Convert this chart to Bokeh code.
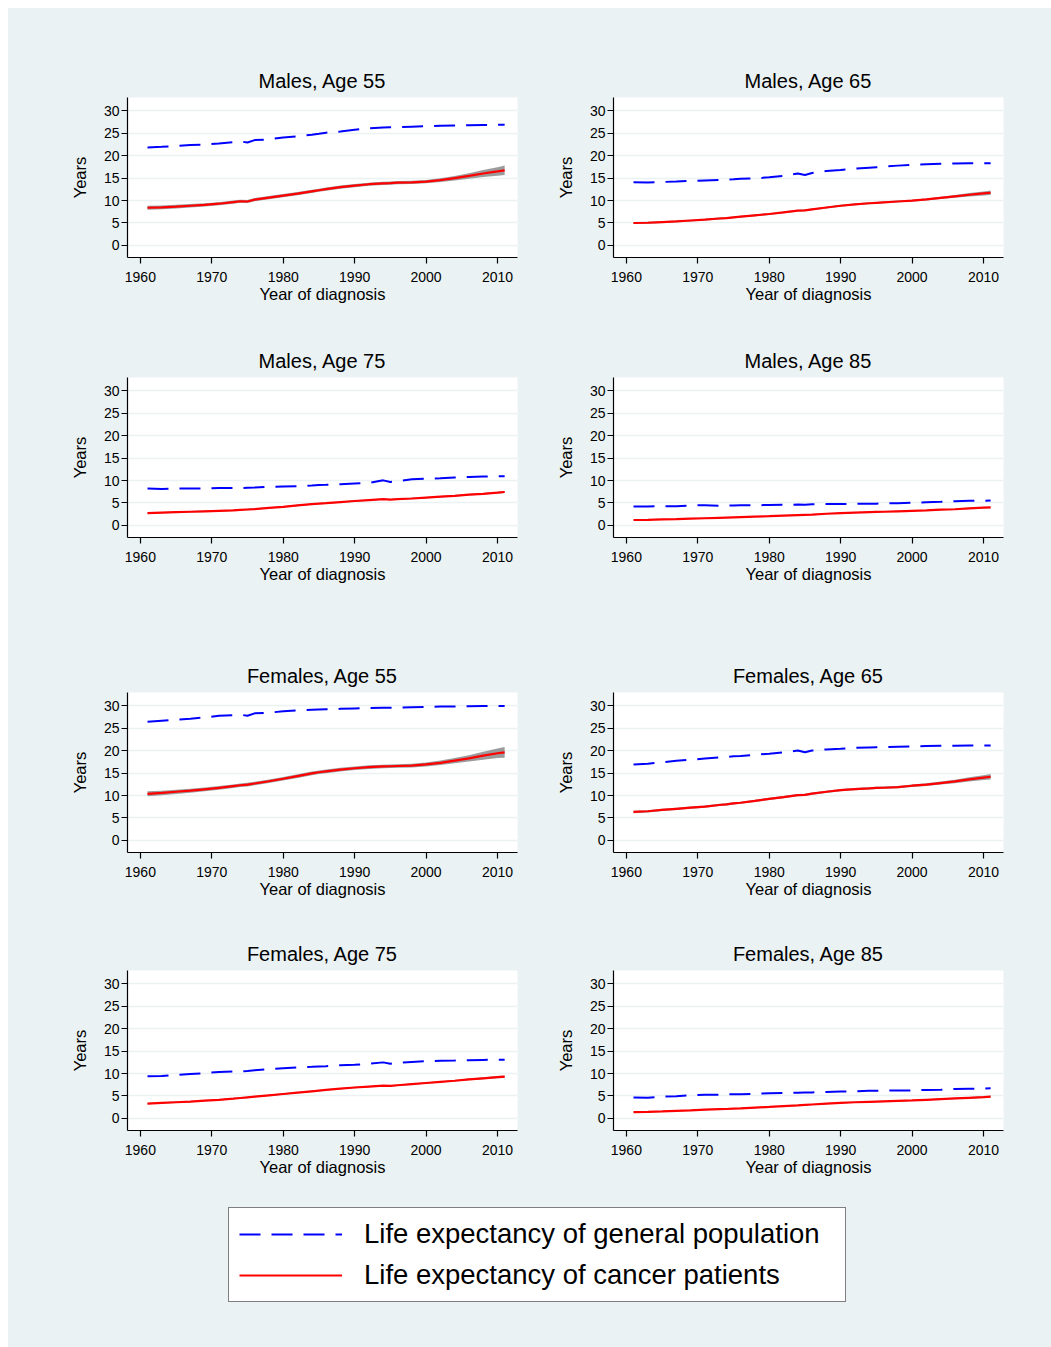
from bokeh.plotting import figure
from bokeh.layouts import column, row
from bokeh.models import Range1d, FixedTicker, Legend, LegendItem
from bokeh.embed import file_html
from bokeh.resources import INLINE

# ---------------- data ----------------
years = [1961, 1963, 1965, 1967, 1969, 1971, 1973, 1974, 1975, 1976,
         1978, 1980, 1982, 1984, 1985, 1986, 1988, 1990, 1992, 1994,
         1995, 1996, 1998, 2000, 2002, 2004, 2006, 2008, 2010, 2011]

panel_titles = ["Males, Age 55", "Males, Age 65", "Males, Age 75", "Males, Age 85",
                "Females, Age 55", "Females, Age 65", "Females, Age 75", "Females, Age 85"]

m55_gen = [21.85, 22.0, 22.2, 22.4, 22.5, 22.75, 23.05, 23.2, 22.95, 23.5,
           23.65, 24.1, 24.35, 24.7, 24.9, 25.15, 25.4, 25.8, 26.1, 26.3,
           26.35, 26.4, 26.5, 26.6, 26.7, 26.75, 26.8, 26.85, 26.9, 26.9]
m55_can = [8.4, 8.5, 8.65, 8.85, 9.05, 9.3, 9.65, 9.85, 9.8, 10.2,
           10.65, 11.1, 11.55, 12.05, 12.3, 12.55, 13.0, 13.35, 13.65, 13.85,
           13.9, 14.0, 14.05, 14.25, 14.55, 15.0, 15.5, 16.05, 16.5, 16.75]
m55_ci = [0.45, 0.42, 0.4, 0.38, 0.36, 0.35, 0.35, 0.35, 0.35, 0.35,
          0.35, 0.35, 0.35, 0.35, 0.35, 0.35, 0.35, 0.35, 0.35, 0.35,
          0.35, 0.35, 0.35, 0.37, 0.42, 0.5, 0.62, 0.78, 0.95, 1.05]

m65_gen = [14.1, 14.05, 14.15, 14.25, 14.4, 14.5, 14.6, 14.7, 14.75, 14.85,
           14.95, 15.2, 15.5, 16.05, 15.7, 16.15, 16.6, 16.85, 17.15, 17.35,
           17.45, 17.55, 17.8, 18.0, 18.1, 18.2, 18.3, 18.35, 18.35, 18.35]
m65_can = [5.0, 5.05, 5.2, 5.35, 5.55, 5.75, 6.0, 6.1, 6.25, 6.4,
           6.7, 7.0, 7.35, 7.75, 7.8, 8.05, 8.45, 8.85, 9.15, 9.4,
           9.5, 9.6, 9.8, 10.0, 10.25, 10.6, 10.95, 11.3, 11.6, 11.75]
m65_ci = [0.22, 0.2, 0.2, 0.2, 0.2, 0.2, 0.2, 0.2, 0.2, 0.2,
          0.2, 0.2, 0.2, 0.2, 0.2, 0.2, 0.2, 0.2, 0.2, 0.2,
          0.2, 0.2, 0.2, 0.2, 0.22, 0.25, 0.3, 0.37, 0.45, 0.5]

m75_gen = [8.25, 8.1, 8.25, 8.25, 8.25, 8.35, 8.35, 8.35, 8.4, 8.45,
           8.6, 8.7, 8.75, 8.9, 9.0, 9.05, 9.2, 9.35, 9.5, 10.05,
           9.7, 9.85, 10.3, 10.45, 10.5, 10.7, 10.8, 10.9, 10.95, 10.95]
m75_can = [2.75, 2.85, 2.95, 3.05, 3.15, 3.25, 3.35, 3.45, 3.55, 3.65,
           3.9, 4.15, 4.45, 4.75, 4.85, 4.95, 5.2, 5.45, 5.65, 5.85,
           5.75, 5.85, 6.0, 6.2, 6.4, 6.6, 6.85, 7.05, 7.3, 7.45]
m75_ci = [0.15, 0.15, 0.15, 0.15, 0.15, 0.15, 0.15, 0.15, 0.15, 0.15,
          0.15, 0.15, 0.15, 0.15, 0.15, 0.15, 0.15, 0.15, 0.15, 0.15,
          0.15, 0.15, 0.15, 0.15, 0.15, 0.16, 0.17, 0.18, 0.2, 0.22]

m85_gen = [4.2, 4.2, 4.3, 4.3, 4.45, 4.5, 4.4, 4.45, 4.45, 4.5,
           4.5, 4.55, 4.6, 4.65, 4.6, 4.7, 4.75, 4.75, 4.8, 4.85,
           4.85, 4.9, 4.95, 5.05, 5.15, 5.25, 5.4, 5.5, 5.5, 5.55]
m85_can = [1.2, 1.25, 1.35, 1.4, 1.5, 1.6, 1.7, 1.75, 1.8, 1.85,
           1.95, 2.05, 2.2, 2.3, 2.35, 2.4, 2.6, 2.75, 2.85, 2.95,
           3.0, 3.05, 3.15, 3.25, 3.35, 3.5, 3.6, 3.8, 3.95, 4.0]
m85_ci = [0.1, 0.1, 0.1, 0.1, 0.1, 0.1, 0.1, 0.1, 0.1, 0.1,
          0.1, 0.1, 0.1, 0.1, 0.1, 0.1, 0.1, 0.1, 0.1, 0.1,
          0.1, 0.1, 0.1, 0.1, 0.1, 0.11, 0.12, 0.13, 0.14, 0.15]

f55_gen = [26.5, 26.7, 26.9, 27.15, 27.45, 27.8, 27.95, 28.05, 27.8, 28.35,
           28.5, 28.8, 29.0, 29.15, 29.2, 29.25, 29.35, 29.45, 29.55, 29.6,
           29.6, 29.6, 29.7, 29.75, 29.85, 29.9, 29.95, 30.0, 30.0, 30.0]
f55_can = [10.4, 10.6, 10.85, 11.1, 11.4, 11.7, 12.1, 12.3, 12.45, 12.7,
           13.2, 13.75, 14.35, 14.95, 15.2, 15.4, 15.8, 16.1, 16.35, 16.5,
           16.55, 16.6, 16.7, 16.95, 17.3, 17.8, 18.3, 18.9, 19.45, 19.65]
f55_ci = [0.55, 0.5, 0.47, 0.45, 0.43, 0.42, 0.4, 0.4, 0.4, 0.4,
          0.4, 0.4, 0.4, 0.4, 0.4, 0.4, 0.4, 0.4, 0.4, 0.4,
          0.4, 0.4, 0.42, 0.45, 0.5, 0.6, 0.72, 0.88, 1.05, 1.2]

f65_gen = [16.95, 17.1, 17.45, 17.75, 18.0, 18.25, 18.5, 18.6, 18.75, 18.85,
           19.1, 19.35, 19.65, 20.05, 19.65, 20.05, 20.3, 20.45, 20.65, 20.75,
           20.8, 20.85, 20.9, 20.95, 21.05, 21.1, 21.1, 21.15, 21.2, 21.2]
f65_can = [6.35, 6.5, 6.8, 7.05, 7.3, 7.55, 7.9, 8.05, 8.25, 8.4,
           8.8, 9.25, 9.65, 10.1, 10.15, 10.45, 10.85, 11.2, 11.45, 11.6,
           11.7, 11.75, 11.9, 12.2, 12.45, 12.8, 13.15, 13.6, 14.0, 14.2]
f65_ci = [0.27, 0.25, 0.25, 0.25, 0.25, 0.25, 0.25, 0.25, 0.25, 0.25,
          0.25, 0.25, 0.25, 0.25, 0.25, 0.25, 0.25, 0.25, 0.25, 0.25,
          0.25, 0.25, 0.25, 0.27, 0.3, 0.34, 0.4, 0.47, 0.55, 0.6]

f75_gen = [9.4, 9.45, 9.7, 9.9, 10.1, 10.35, 10.45, 10.5, 10.6, 10.75,
           10.95, 11.2, 11.35, 11.5, 11.6, 11.65, 11.85, 11.95, 12.2, 12.5,
           12.2, 12.4, 12.6, 12.75, 12.85, 12.9, 13.0, 13.05, 13.1, 13.1]
f75_can = [3.3, 3.45, 3.6, 3.75, 3.95, 4.15, 4.4, 4.55, 4.7, 4.85,
           5.15, 5.45, 5.75, 6.05, 6.2, 6.35, 6.65, 6.9, 7.1, 7.3,
           7.25, 7.4, 7.65, 7.9, 8.15, 8.4, 8.7, 8.95, 9.2, 9.3]
f75_ci = [0.15, 0.15, 0.15, 0.15, 0.15, 0.15, 0.15, 0.15, 0.15, 0.15,
          0.15, 0.15, 0.15, 0.15, 0.15, 0.15, 0.15, 0.15, 0.15, 0.15,
          0.15, 0.15, 0.15, 0.15, 0.16, 0.17, 0.19, 0.21, 0.24, 0.26]

f85_gen = [4.65, 4.6, 4.85, 4.95, 5.15, 5.25, 5.3, 5.35, 5.4, 5.4,
           5.5, 5.6, 5.7, 5.75, 5.8, 5.8, 5.9, 6.0, 6.05, 6.15,
           6.15, 6.2, 6.25, 6.25, 6.35, 6.4, 6.55, 6.6, 6.65, 6.7]
f85_can = [1.4, 1.45, 1.55, 1.7, 1.8, 1.95, 2.05, 2.1, 2.2, 2.25,
           2.4, 2.55, 2.75, 2.9, 3.0, 3.1, 3.3, 3.45, 3.6, 3.7,
           3.75, 3.8, 3.9, 4.0, 4.15, 4.3, 4.45, 4.6, 4.75, 4.85]
f85_ci = [0.12, 0.12, 0.12, 0.12, 0.12, 0.12, 0.12, 0.12, 0.12, 0.12,
          0.12, 0.12, 0.12, 0.12, 0.12, 0.12, 0.12, 0.12, 0.12, 0.12,
          0.12, 0.12, 0.12, 0.12, 0.13, 0.14, 0.15, 0.17, 0.19, 0.2]

x_ticks = [1960, 1970, 1980, 1990, 2000, 2010]
y_ticks = [0, 5, 10, 15, 20, 25, 30]
legend_labels = ["Life expectancy of general population",
                 "Life expectancy of cancer patients"]

panels = [
    (m55_gen, m55_can, m55_ci), (m65_gen, m65_can, m65_ci),
    (m75_gen, m75_can, m75_ci), (m85_gen, m85_can, m85_ci),
    (f55_gen, f55_can, f55_ci), (f65_gen, f65_can, f65_ci),
    (f75_gen, f75_can, f75_ci), (f85_gen, f85_can, f85_ci),
]

# ---------------- style ----------------
BG = "#EAF2F3"
FONT = "Liberation Sans"
DASH = "21 11"
# per row: (figure height, min_border_top, min_border_bottom)
row_geom = [(322, 89, 73), (290, 47, 83), (285, 72, 53), (280, 65, 55)]
# per column: (figure width, min_border_left, min_border_right)
col_geom = [(529, 119, 20), (514, 76, 48)]


def make_panel(idx):
    r, c = divmod(idx, 2)
    h, mbt, mbb = row_geom[r]
    w, mbl, mbr = col_geom[c]
    gen, can, ci = panels[idx]
    p = figure(width=w, height=h, title=panel_titles[idx],
               x_range=Range1d(1958.2, 2012.8), y_range=Range1d(-2.7, 33.0),
               output_backend="svg", toolbar_location=None,
               min_border_left=mbl, min_border_right=mbr,
               min_border_top=mbt, min_border_bottom=mbb)
    p.background_fill_color = "white"
    p.border_fill_color = BG
    p.outline_line_color = None

    p.title.text_font = FONT
    p.title.text_font_size = "20px"
    p.title.text_font_style = "normal"
    p.title.text_color = "black"
    p.title.align = "center"
    p.title.standoff = 12

    lower = [v - e for v, e in zip(can, ci)]
    upper = [v + e for v, e in zip(can, ci)]
    p.varea(x=years, y1=lower, y2=upper, fill_color="#8a8a8a", fill_alpha=0.85)
    p.line(years, gen, line_color="#0000FF", line_width=2, line_dash=DASH)
    p.line(years, can, line_color="#FF0000", line_width=2.2)

    p.xgrid.visible = False
    p.ygrid.grid_line_color = BG
    p.ygrid.grid_line_width = 1.6

    for ax in (p.xaxis[0], p.yaxis[0]):
        ax.axis_line_color = "black"
        ax.axis_line_width = 1.2
        ax.major_tick_line_color = "black"
        ax.major_tick_line_width = 1.2
        ax.major_tick_in = 0
        ax.major_tick_out = 6
        ax.minor_tick_line_color = None
        ax.major_label_text_font = FONT
        ax.major_label_text_font_size = "14px"
        ax.major_label_text_color = "black"
        ax.axis_label_text_font = FONT
        ax.axis_label_text_font_size = "16.5px"
        ax.axis_label_text_font_style = "normal"
        ax.axis_label_text_color = "black"
    p.xaxis.ticker = FixedTicker(ticks=x_ticks)
    p.yaxis.ticker = FixedTicker(ticks=y_ticks)
    p.xaxis.axis_label = "Year of diagnosis"
    p.yaxis.axis_label = "Years"
    p.xaxis.major_label_standoff = 8
    p.xaxis.axis_label_standoff = 0
    p.yaxis.major_label_standoff = 2
    p.yaxis.axis_label_standoff = 12
    return p


figs = [make_panel(i) for i in range(8)]

# ---------------- legend ----------------
lf = figure(width=1043, height=162, x_range=Range1d(0, 1), y_range=Range1d(0, 1),
            output_backend="svg", toolbar_location=None,
            x_axis_location=None, y_axis_location=None,
            min_border=0)
lf.background_fill_color = BG
lf.border_fill_color = BG
lf.outline_line_color = None
lf.xgrid.visible = False
lf.ygrid.visible = False
# legend-only renderers, kept outside the visible range
r1 = lf.line([-2, -1], [-2, -2], line_color="#0000FF", line_width=2, line_dash=DASH)
r2 = lf.line([-2, -1], [-2, -2], line_color="#FF0000", line_width=2.2)
leg = Legend(items=[LegendItem(label=legend_labels[0], renderers=[r1]),
                    LegendItem(label=legend_labels[1], renderers=[r2])],
             location=(220, 45), orientation="vertical")
leg.padding = 10
leg.spacing = 9
leg.margin = 0
leg.glyph_width = 103
leg.glyph_height = 32
leg.label_height = 32
leg.label_width = 471
leg.label_standoff = 22
leg.label_text_font = FONT
leg.label_text_font_size = "27.5px"
leg.label_text_color = "black"
leg.border_line_color = "black"
leg.border_line_width = 1.5
leg.background_fill_color = "white"
leg.background_fill_alpha = 1.0
lf.add_layout(leg)

layout = column(row(figs[0], figs[1]), row(figs[2], figs[3]),
                row(figs[4], figs[5]), row(figs[6], figs[7]), lf,
                styles={"background-color": BG})
layout.margin = (8, 0, 0, 8)

open("out.html", "w").write(file_html(layout, INLINE))
